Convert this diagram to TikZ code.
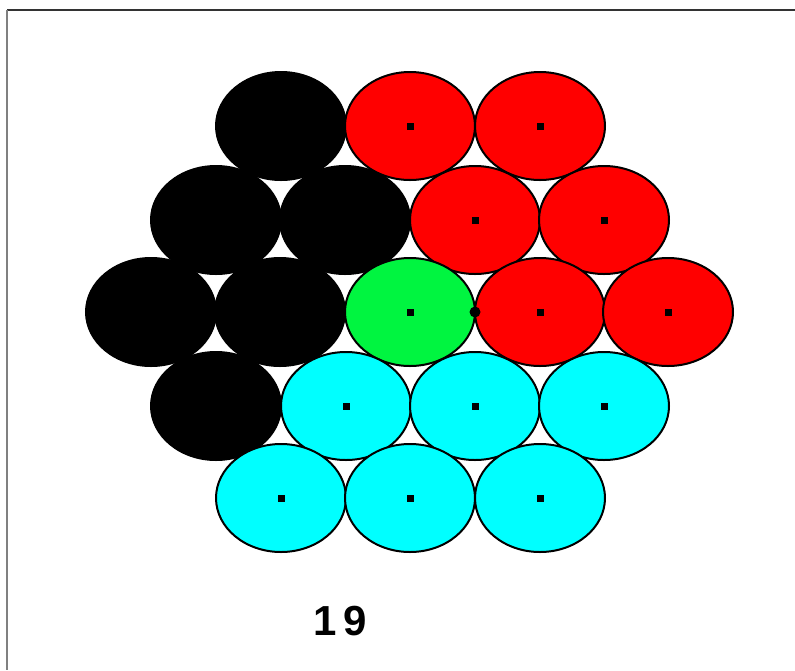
\documentclass[tikz,border=0pt]{standalone}
\usepackage{fontspec}
\setmainfont{Liberation Sans}
\usetikzlibrary{shapes.geometric}
\definecolor{gr}{RGB}{0,245,64}
\definecolor{cy}{RGB}{0,255,255}
\definecolor{rd}{RGB}{255,0,0}
\tikzset{
  ell/.style={ellipse, draw=black, line width=2pt, minimum width=130pt, minimum height=108pt, inner sep=0pt},
  blk/.style={ell, fill=black},
  dotsq/.style={fill=black, minimum size=7pt, inner sep=0pt, rectangle},
  ctr/.style={fill=black, circle, minimum size=11pt, inner sep=0pt},
  framel/.style={line width=2pt},
  lbl/.style={font=\bfseries\fontsize{42}{42}\selectfont, inner sep=0pt}
}
\begin{document}
\begin{tikzpicture}[x=1pt,y=-1pt]
\useasboundingbox (0,0) rectangle (795,670);
\fill[white] (0,0) rectangle (795,670);
\coordinate (ftl) at (7,10);
\coordinate (ftr) at (795,10);
\coordinate (fbl) at (7,670);
\draw[framel, color=black!80] (ftl) -- (ftr);
\draw[framel, color=black!50] (ftl) -- (fbl);
% black ellipses
\node[blk] (b1) at (281,126) {};
\node[blk] (b2) at (216,220) {};
\node[blk] (b3) at (345,220) {};
\node[blk] (b4) at (151,312) {};
\node[blk] (b5) at (280,312) {};
\node[blk] (b6) at (216,406) {};
% red
\node[ell, fill=rd] (r1) at (410,126) {};
\node[ell, fill=rd] (r2) at (540,126) {};
\node[ell, fill=rd] (r3) at (475,220) {};
\node[ell, fill=rd] (r4) at (604,220) {};
\node[ell, fill=rd] (r5) at (540,312) {};
\node[ell, fill=rd] (r6) at (668,312) {};
% green
\node[ell, fill=gr] (g1) at (410,312) {};
% cyan
\node[ell, fill=cy] (c1) at (346,406) {};
\node[ell, fill=cy] (c2) at (475,406) {};
\node[ell, fill=cy] (c3) at (604,406) {};
\node[ell, fill=cy] (c4) at (281,498) {};
\node[ell, fill=cy] (c5) at (410,498) {};
\node[ell, fill=cy] (c6) at (540,498) {};
% centre dots
\foreach \n in {r1,r2,r3,r4,r5,r6,g1,c1,c2,c3,c4,c5,c6}
  \node[dotsq] (d\n) at (\n.center) {};
\node[ctr] (mid) at (475,312) {};
\node[lbl] (num) at (340,621) {1\kern7pt 9};
\end{tikzpicture}
\end{document}
